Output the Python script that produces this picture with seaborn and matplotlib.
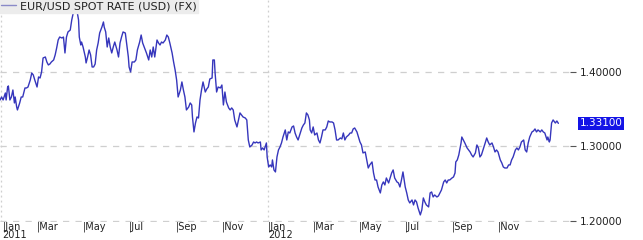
import numpy as np
import pandas as pd
import matplotlib
matplotlib.use("Agg")
import matplotlib.pyplot as plt
import matplotlib.transforms as mtransforms
import seaborn as sns

# ---------------- data ----------------
start_date = "2011-01-01"
day_offsets = [
    10, 12, 14, 17, 18, 20, 21, 23, 25, 27, 29, 30, 32, 33, 36, 38, 40, 43, 45, 47,
    50, 52, 54, 56, 59, 61, 63, 65, 67, 70, 72, 74, 76, 78, 81, 83, 85, 87, 89, 92,
    94, 96, 98, 100, 103, 105, 107, 109, 112, 114, 115, 117, 118, 120, 123, 124, 126, 128, 130, 132,
    134,
    136, 138, 140, 142, 145, 147, 148, 150, 152, 154, 156, 158, 160, 162, 165, 167, 169, 171, 173, 176,
    178, 180, 181, 183, 185, 188, 190, 192, 195, 197, 199, 201, 204, 207, 209, 211, 213, 215, 218, 220,
    222, 224, 226, 229, 231, 233, 235, 238, 240, 242, 244, 246, 249, 251, 253, 255, 257, 260, 262,
    264, 265, 267, 269, 271, 273, 275, 277, 279, 282, 284, 286, 288, 291, 292, 294, 295, 297, 299, 302,
    304, 306, 308, 310, 313, 315, 317, 319, 321, 324, 326, 328, 330, 332, 335, 337, 339, 341, 344, 346,
    348, 350, 352, 355, 356, 358, 360, 363, 364, 366, 368, 370, 371, 373, 375, 377, 379, 381, 383, 385,
    388,
    390, 392, 394, 397, 399, 401, 403, 405, 408, 410, 412, 414, 416, 418, 420, 421, 423, 425, 427, 430,
    432, 434, 436, 438, 441, 443, 445, 447, 450, 452, 454, 456, 458, 461, 463, 465, 467, 469, 472, 474,
    476, 478, 480, 483, 485, 487, 489, 491, 494, 496, 498, 500, 503, 505, 507, 509, 511, 514,
    516, 518, 520, 522, 525, 527, 529, 531, 533, 536, 538, 540, 542, 544, 545, 547, 549, 551, 553, 556,
    558, 560, 562, 564, 567, 569, 571, 573, 575, 578, 580, 582, 584, 586, 589, 591, 593, 595, 598, 600,
    602, 604, 606, 609, 611, 613, 614, 616, 618, 621, 622, 624, 626, 629, 631, 633, 635, 637, 640,
    642, 644, 646, 648, 651, 653, 655, 657, 659, 662, 664, 666, 668, 670, 673, 675, 677, 679, 682, 684,
    686, 688, 690, 693, 695, 697, 699, 701, 704, 706, 708, 710, 712, 715, 717, 719, 721, 723, 726, 728,
    730, 732, 735, 736, 738, 739, 741, 743, 746, 748, 750,
]
eurusd = [
    1.3624, 1.3664, 1.3624, 1.3718, 1.3624, 1.3798, 1.3812, 1.3624, 1.3664, 1.3758, 1.3584, 1.3664, 1.3530, 1.3490, 1.3584, 1.3664, 1.3664, 1.3785, 1.3785, 1.3798,
    1.3892, 1.3986, 1.3960, 1.3892, 1.3798, 1.3933, 1.3919, 1.4000, 1.4188, 1.4201, 1.4134, 1.4094, 1.4107, 1.4134, 1.4161, 1.4228, 1.4322, 1.4429, 1.4469, 1.4456,
    1.4469, 1.4255, 1.4469, 1.4537, 1.4563, 1.4698, 1.4792, 1.4818, 1.4818, 1.4698, 1.4469, 1.4362, 1.4402, 1.4335, 1.4201, 1.4121, 1.4201, 1.4295, 1.4228, 1.4067,
    1.4067,
    1.4107, 1.4295, 1.4389, 1.4523, 1.4604, 1.4671, 1.4604, 1.4537, 1.4335, 1.4456, 1.4335, 1.4255, 1.4335, 1.4402, 1.4295, 1.4201, 1.4389, 1.4469, 1.4537, 1.4523,
    1.4362, 1.4201, 1.4067, 1.4000, 1.4134, 1.4134, 1.4161, 1.4295, 1.4402, 1.4496, 1.4389, 1.4335, 1.4255, 1.4161, 1.4295, 1.4201, 1.4335, 1.4201, 1.4429, 1.4389,
    1.4362, 1.4402, 1.4389, 1.4429, 1.4496, 1.4469, 1.4389, 1.4255, 1.4134, 1.4027, 1.3892, 1.3664, 1.3758, 1.3866, 1.3758, 1.3664, 1.3490, 1.3530, 1.3584,
    1.3557, 1.3396, 1.3195, 1.3315, 1.3396, 1.3382, 1.3624, 1.3758, 1.3866, 1.3731, 1.3772, 1.3798, 1.3906, 1.3919, 1.4161, 1.4161, 1.3986, 1.3731, 1.3798, 1.3785,
    1.3825, 1.3557, 1.3731, 1.3597, 1.3517, 1.3490, 1.3517, 1.3490, 1.3356, 1.3262, 1.3356, 1.3450, 1.3423, 1.3396, 1.3382, 1.3356, 1.3087, 1.2993, 1.3020, 1.3060,
    1.3047, 1.3060, 1.3047, 1.3060, 1.2953, 1.2980, 1.2953, 1.3047, 1.2859, 1.2725, 1.2752, 1.2725, 1.2819, 1.2685, 1.2658, 1.2859, 1.2953, 1.2993, 1.3047, 1.3127,
    1.3222,
    1.3087, 1.3195, 1.3181, 1.3262, 1.3275, 1.3181, 1.3127, 1.3087, 1.3181, 1.3248, 1.3288, 1.3315, 1.3450, 1.3423, 1.3356, 1.3222, 1.3181, 1.3262, 1.3154, 1.3181,
    1.3087, 1.3047, 1.3127, 1.3222, 1.3222, 1.3262, 1.3342, 1.3329, 1.3329, 1.3315, 1.3222, 1.3087, 1.3087, 1.3114, 1.3101, 1.3181, 1.3087, 1.3127, 1.3154, 1.3181,
    1.3181, 1.3235, 1.3248, 1.3195, 1.3127, 1.3060, 1.3020, 1.2913, 1.2926, 1.2819, 1.2711, 1.2752, 1.2792, 1.2644, 1.2550, 1.2550, 1.2456, 1.2376,
    1.2483, 1.2524, 1.2483, 1.2577, 1.2510, 1.2577, 1.2644, 1.2685, 1.2577, 1.2524, 1.2510, 1.2456, 1.2550, 1.2658, 1.2591, 1.2456, 1.2376, 1.2282, 1.2242, 1.2282,
    1.2215, 1.2282, 1.2255, 1.2175, 1.2081, 1.2148, 1.2309, 1.2255, 1.2215, 1.2188, 1.2376, 1.2389, 1.2322, 1.2349, 1.2322, 1.2336, 1.2376, 1.2416, 1.2524, 1.2550,
    1.2510, 1.2550, 1.2550, 1.2577, 1.2591, 1.2644, 1.2792, 1.2819, 1.2886, 1.3047, 1.3127, 1.3087, 1.3047, 1.2980, 1.2953, 1.2926, 1.2886, 1.2859, 1.2913,
    1.3020, 1.2980, 1.2859, 1.2886, 1.2980, 1.3047, 1.3114, 1.3060, 1.3020, 1.3047, 1.2993, 1.2926, 1.2953, 1.2926, 1.2819, 1.2779, 1.2725, 1.2711, 1.2711, 1.2752,
    1.2752, 1.2819, 1.2859, 1.2953, 1.2980, 1.2953, 1.2993, 1.3060, 1.3087, 1.2953, 1.2926, 1.3047, 1.3127, 1.3195, 1.3208, 1.3235, 1.3195, 1.3222, 1.3195, 1.3222,
    1.3195, 1.3181, 1.3087, 1.3127, 1.3060, 1.3087, 1.3315, 1.3356, 1.3315, 1.3342, 1.3310,
]
series_name = "EUR/USD SPOT RATE (USD) (FX)"
last_value_label = "1.33100"
y_ticks = [1.20, 1.30, 1.40]
x_label_dates = ["2011-03-01", "2011-05-01", "2011-07-01", "2011-09-01", "2011-11-01",
                 "2012-01-01", "2012-03-01", "2012-05-01", "2012-07-01", "2012-09-01", "2012-11-01"]
x_label_texts = ["|Mar", "|May", "|Jul", "|Sep", "|Nov",
                 "|Jan\n2012", "|Mar", "|May", "|Jul", "|Sep", "|Nov"]
first_label = "|Jan\n2011"

# ---------------- build ----------------
dates = pd.Timestamp(start_date) + pd.to_timedelta(day_offsets, unit="D")
df = pd.DataFrame({"date": dates, "rate": eurusd})

sns.set_theme(style="white")
plt.rcParams["font.family"] = ["DejaVu Sans"]

W, H = 643, 240
fig = plt.figure(figsize=(W / 100, H / 100), dpi=100)
ax = fig.add_axes([0, 18 / H, 570 / W, 222 / H])

line_color = "#3636bc"
sns.lineplot(data=df, x="date", y="rate", ax=ax, color=line_color,
             linewidth=1.0, label=series_name)

x0 = pd.Timestamp(start_date) + pd.Timedelta(days=9.9)
x1 = pd.Timestamp(start_date) + pd.Timedelta(days=765.4)
ax.set_xlim(x0, x1)
ax.set_ylim(1.1986, 1.4966)

for s in ax.spines.values():
    s.set_visible(False)

grid_c = "#cfcfcf"
for v in y_ticks:
    ax.axhline(v, color=grid_c, lw=0.9, ls=(0, (5, 5)), zorder=0)
ax.axvline(pd.Timestamp("2012-01-01"), color=grid_c, lw=0.9, ls=(0, (1.5, 2.5)), zorder=0)
ax.axvline(x0 + pd.Timedelta(days=1.3), color=grid_c, lw=0.9, ls=(0, (1.5, 2.5)), zorder=0)

# right-hand y axis
ax.yaxis.tick_right()
ax.set_yticks(y_ticks)
ax.set_yticklabels([f"{v:.5f}" for v in y_ticks])
ax.tick_params(axis="y", which="both", right=True, left=False, length=4, width=0.8,
               color="#555555", pad=3, labelsize=7.5, labelcolor="#222222")
ax.set_xticks([])
ax.set_xlabel("")
ax.set_ylabel("")

# x labels, Bloomberg style with bar
trans = mtransforms.blended_transform_factory(ax.transData, ax.transAxes)
lab_kw = dict(transform=trans, ha="left", va="top", fontsize=7, color="#222222",
              linespacing=0.82, clip_on=False)
ax.text(x0 + pd.Timedelta(days=3), 0.004, first_label, **lab_kw)
for d, t in zip(x_label_dates, x_label_texts):
    ax.text(pd.Timestamp(d), 0.004, t, **lab_kw)

# last value box
trans_y = mtransforms.blended_transform_factory(ax.transAxes, ax.transData)
ax.text(1.017, eurusd[-1], last_value_label, transform=trans_y, ha="left", va="center",
        fontsize=7.5, color="white", clip_on=False,
        bbox=dict(boxstyle="square,pad=0.12", facecolor="#1414e6", edgecolor="none"))

leg = ax.legend(loc="upper left", bbox_to_anchor=(0, 1), borderaxespad=0, frameon=True,
                facecolor="#ececec", edgecolor="#ececec", fancybox=False, framealpha=1,
                fontsize=8, handlelength=1.3, handletextpad=0.4, borderpad=0.12)
leg.get_lines()[0].set_color("#8a8ac8")
for t in leg.get_texts():
    t.set_color("#222222")

fig.savefig("out.png", dpi=100)
